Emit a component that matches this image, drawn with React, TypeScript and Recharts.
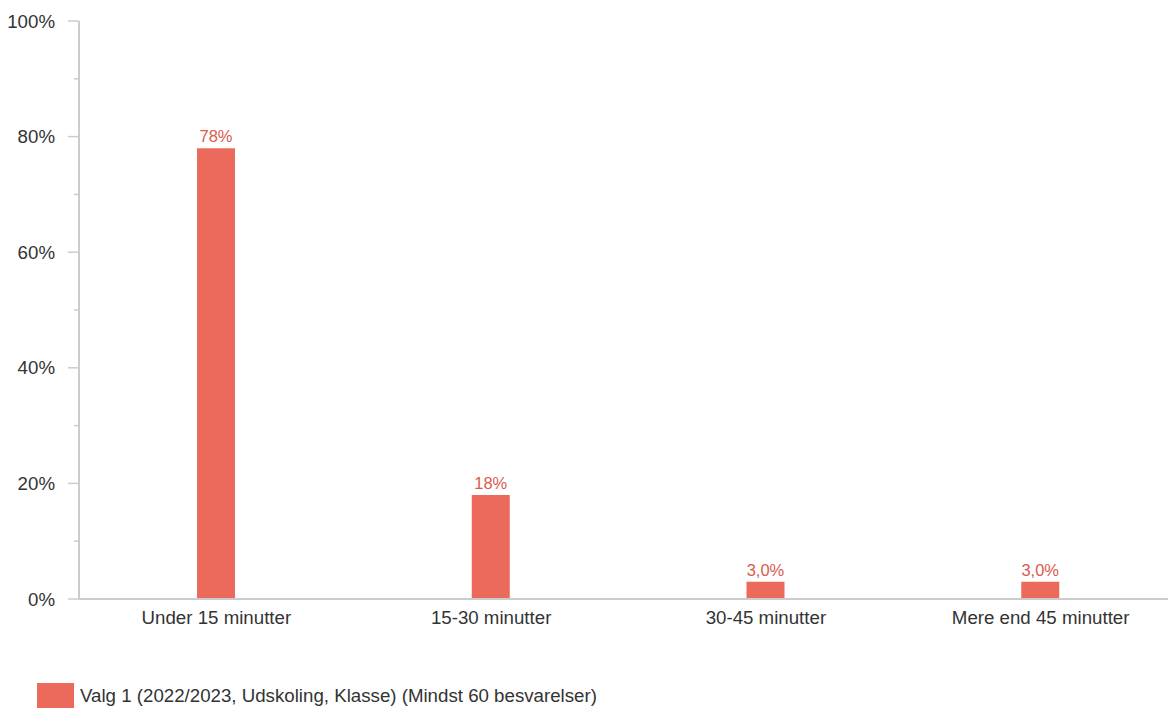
import { Bar, BarChart, LabelList, Legend, XAxis, YAxis } from "recharts";

const CATEGORIES = ["Under 15 minutter", "15-30 minutter", "30-45 minutter", "Mere end 45 minutter"];
const VALUES = [78, 18, 3, 3];
const Y_TICKS = [0, 10, 20, 30, 40, 50, 60, 70, 80, 90, 100];
const SERIES_NAME = "Valg 1 (2022/2023, Udskoling, Klasse) (Mindst 60 besvarelser)";

const BAR_COLOR = "#ec6a5c";
const LABEL_COLOR = "#d95a50";
const AXIS_COLOR = "#cccccc";
const TEXT_COLOR = "#333333";
const FONT = "'Liberation Sans', Arial, sans-serif";
const FONT_SIZE = 18.7;

const data = CATEGORIES.map((name, i) => ({ name, value: VALUES[i] }));

// label formatting like the source: whole numbers above 10, one decimal with comma below
const fmtLabel = (v: number) => (v >= 10 ? `${Math.round(v)}%` : `${v.toFixed(1).replace(".", ",")}%`);

function YTick(props: any) {
  const { x, y, payload } = props;
  const major = payload.value % 20 === 0;
  return (
    <g>
      <line x1={x - (major ? 11 : 5)} x2={x} y1={y} y2={y} stroke={AXIS_COLOR} strokeWidth={1.5} />
      {major && (
        <text x={x - 24} y={y} dy="0.35em" textAnchor="end" fontSize={FONT_SIZE} fill={TEXT_COLOR} fontFamily={FONT}>
          {payload.value}%
        </text>
      )}
    </g>
  );
}

function LegendContent() {
  return (
    <div
      style={{ display: "flex", alignItems: "center", height: 26, fontFamily: FONT, fontSize: FONT_SIZE, color: TEXT_COLOR }}
    >
      <span style={{ width: 37, height: 26, background: BAR_COLOR, display: "inline-block", marginRight: 6 }} />
      <span>{SERIES_NAME}</span>
    </div>
  );
}

export default function App() {
  return (
    <div
      style={{ position: "fixed", left: 0, top: 0, width: 1168, height: 708, overflow: "hidden", background: "#fff" }}
    >
      <BarChart width={1178} height={708} data={data} margin={{ top: 21, right: 0, bottom: 53, left: 0 }}>
        <YAxis
          width={79}
          domain={[0, 100]}
          ticks={Y_TICKS}
          interval={0}
          tickSize={0}
          tickMargin={0}
          tickLine={false}
          tick={<YTick />}
          axisLine={{ stroke: AXIS_COLOR, strokeWidth: 2 }}
        />
        <XAxis
          dataKey="name"
          height={30}
          tickLine={false}
          tickSize={0}
          tickMargin={12}
          axisLine={{ stroke: AXIS_COLOR, strokeWidth: 2 }}
          tick={{ fontSize: FONT_SIZE, fill: TEXT_COLOR, fontFamily: FONT }}
        />
        <Legend
          content={<LegendContent />}
          wrapperStyle={{ position: "absolute", left: 37, top: 683, width: "auto", height: 26 }}
        />
        <Bar dataKey="value" name={SERIES_NAME} fill={BAR_COLOR} barSize={38} isAnimationActive={false}>
          <LabelList
            dataKey="value"
            position="top"
            offset={6}
            formatter={(v: any) => fmtLabel(Number(v))}
            style={{ fontSize: 16.5, fill: LABEL_COLOR, fontFamily: FONT }}
          />
        </Bar>
      </BarChart>
    </div>
  );
}
